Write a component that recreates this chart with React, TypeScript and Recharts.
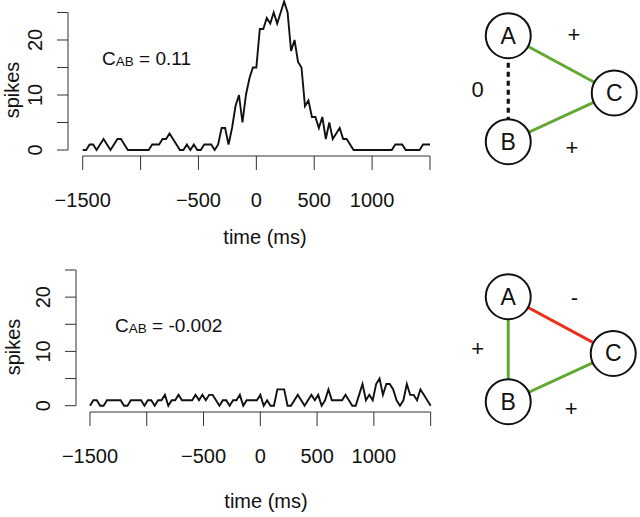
import React from "react";
import {
  LineChart,
  Line,
  XAxis,
  YAxis,
  ReferenceLine,
  Customized,
  ScatterChart,
  Scatter,
} from "recharts";

const FONT = "'Liberation Sans', Arial, Helvetica, sans-serif";
const GREEN = "#62a832";
const RED = "#e8301c";

// histogram bins (ms)
const binStart = -1500;
const binWidth = 30;

const xTicks = [-1500, -1000, -500, 0, 500, 1000, 1500];
const xTickLabels = [-1500, -500, 0, 500, 1000];
const yTicks = [0, 5, 10, 15, 20, 25];
const yTickLabels = [0, 10, 20];

// spike counts, upper panel (C_AB = 0.11)
const spikesUpper = [
  0, 0, 1, 1, 0, 1, 2, 1, 0, 1,
  2, 2, 1, 0, 0, 0, 0, 0, 0, 0,
  1, 1, 1, 2, 2, 3, 2, 1, 0, 0,
  1, 0, 1, 0, 0, 1, 1, 1, 0, 1,
  4, 4, 1, 4, 8, 10, 5, 10, 13, 15,
  15, 22, 22, 24, 23, 25, 23, 25, 27, 25,
  18, 20, 16, 15, 8, 9, 6, 6, 4, 6,
  2, 5, 2, 3, 4, 2, 2, 1, 0, 0,
  0, 0, 0, 0, 0, 0, 0, 0, 0, 0,
  1, 1, 1, 0, 0, 0, 0, 0, 1, 1,
  1,
];

// spike counts, lower panel (C_AB = -0.002)
const spikesLower = [
  0, 1, 1, 0, 0, 1, 1, 1, 1, 1,
  0, 0, 1, 1, 1, 1, 0, 1, 1, 0,
  1, 1, 2, 0, 1, 1, 2, 1, 1, 1,
  1, 2, 1, 2, 1, 2, 2, 1, 0, 1,
  1, 0, 1, 1, 2, 0, 1, 1, 1, 1,
  2, 0, 1, 0, 0, 3, 3, 3, 0, 0,
  1, 2, 1, 0, 1, 2, 1, 2, 0, 1,
  3, 1, 1, 1, 1, 2, 1, 0, 0, 2,
  4, 1, 2, 1, 4, 5, 2, 4, 4, 3,
  1, 0, 1, 4, 2, 2, 1, 3, 2, 1,
  0,
];

// network motifs
const nodes = [
  { id: "A", x: 0, y: 1 },
  { id: "B", x: 0, y: 0 },
  { id: "C", x: 1, y: 0.46 },
];
const upperEdges = [
  { from: "A", to: "C", sign: "+" },
  { from: "A", to: "B", sign: "0" },
  { from: "B", to: "C", sign: "+" },
];
const lowerEdges = [
  { from: "A", to: "C", sign: "-" },
  { from: "A", to: "B", sign: "+" },
  { from: "B", to: "C", sign: "+" },
];
const upperSignLabels = [
  { x: 0.62, y: 1.01, text: "+" },
  { x: -0.29, y: 0.49, text: "0" },
  { x: 0.6, y: -0.05, text: "+" },
];
const lowerSignLabels = [
  { x: 0.63, y: 0.99, text: "-" },
  { x: -0.29, y: 0.51, text: "+" },
  { x: 0.6, y: -0.06, text: "+" },
];

const toRows = (counts: number[]) =>
  counts.map((n, i) => ({ t: binStart + i * binWidth, spikes: n }));

const fmt = (v: number) => (v < 0 ? "\u2212" + Math.abs(v) : String(v));

type PanelProps = {
  counts: number[];
  top: number;
  height: number;
  plotLeft: number;
  plotRight: number;
  plotBottom: number;
  xDomain: [number, number];
  yDomain: [number, number];
  cab: string;
  cabPos: [number, number];
  titlePos: [number, number];
  spikesPos: [number, number];
};

const X_TICK = 14;
const Y_TICK = 11;

const SpikePanel = (p: PanelProps) => {
  const width = 460;
  const XTick = ({ x, y, payload }: any) =>
    xTickLabels.includes(payload.value) ? (
      <text
        x={x}
        y={y - X_TICK + 51}
        textAnchor="middle"
        fontSize={20}
        fontFamily={FONT}
        fill="#111"
      >
        {fmt(payload.value)}
      </text>
    ) : (
      <g />
    );
  const YTick = ({ x, y, payload }: any) => {
    if (!yTickLabels.includes(payload.value)) return <g />;
    const bx = x + Y_TICK - 26;
    return (
      <text
        x={bx}
        y={y}
        transform={`rotate(-90, ${bx}, ${y})`}
        textAnchor="middle"
        fontSize={20}
        fontFamily={FONT}
        fill="#111"
      >
        {payload.value}
      </text>
    );
  };
  return (
    <div style={{ position: "absolute", left: 0, top: p.top }}>
      <LineChart
        width={width}
        height={p.height}
        data={toRows(p.counts)}
        margin={{ top: 0, right: width - p.plotRight, bottom: 0, left: 0 }}
      >
        <XAxis
          type="number"
          dataKey="t"
          domain={p.xDomain}
          allowDataOverflow
          ticks={xTicks}
          interval={0}
          axisLine={false}
          tickLine={{ stroke: "#333", strokeWidth: 1 }}
          tickSize={X_TICK}
          tickMargin={0}
          tick={XTick}
          height={p.height - p.plotBottom}
        />
        <YAxis
          type="number"
          domain={p.yDomain}
          allowDataOverflow
          ticks={yTicks}
          interval={0}
          axisLine={false}
          tickLine={{ stroke: "#333", strokeWidth: 1 }}
          tickSize={Y_TICK}
          tickMargin={0}
          tick={YTick}
          width={p.plotLeft}
        />
        <ReferenceLine
          segment={[
            { x: -1500, y: p.yDomain[0] },
            { x: 1500, y: p.yDomain[0] },
          ]}
          stroke="#333"
          strokeWidth={1}
          ifOverflow="visible"
        />
        <ReferenceLine
          segment={[
            { x: p.xDomain[0], y: 0 },
            { x: p.xDomain[0], y: 25 },
          ]}
          stroke="#333"
          strokeWidth={1}
          ifOverflow="visible"
        />
        <Line
          type="linear"
          dataKey="spikes"
          stroke="#111"
          strokeWidth={1.9}
          dot={false}
          isAnimationActive={false}
        />
        <Customized
          component={() => (
            <g fontFamily={FONT} fill="#111">
              <text x={p.cabPos[0]} y={p.cabPos[1]} fontSize={19}>
                <tspan>C</tspan>
                <tspan fontSize={13.5} dy={1}>
                  AB
                </tspan>
                <tspan dy={-1}>{" = " + p.cab}</tspan>
              </text>
              <text
                x={p.titlePos[0]}
                y={p.titlePos[1]}
                fontSize={20}
                textAnchor="middle"
              >
                time (ms)
              </text>
              <text
                x={p.spikesPos[0]}
                y={p.spikesPos[1]}
                fontSize={20}
                textAnchor="middle"
                transform={`rotate(-90, ${p.spikesPos[0]}, ${p.spikesPos[1]})`}
              >
                spikes
              </text>
            </g>
          )}
        />
      </LineChart>
    </div>
  );
};

type MotifProps = {
  top: number;
  height: number;
  xDomain: [number, number];
  yDomain: [number, number];
  edges: { from: string; to: string; sign: string }[];
  signs: { x: number; y: number; text: string }[];
};

const edgeStyle = (sign: string) =>
  sign === "+"
    ? { stroke: GREEN, strokeWidth: 3 }
    : sign === "-"
    ? { stroke: RED, strokeWidth: 3 }
    : { stroke: "#111", strokeWidth: 3.2, strokeDasharray: "5 4" };

const NodeShape = ({ cx, cy, payload }: any) => (
  <g>
    <circle cx={cx} cy={cy} r={22.5} fill="#fff" stroke="#111" strokeWidth={2} />
    <text
      x={cx}
      y={cy}
      textAnchor="middle"
      dominantBaseline="central"
      fontSize={23}
      fontFamily={FONT}
      fill="#111"
    >
      {payload.id}
    </text>
  </g>
);

const SignShape = ({ cx, cy, payload }: any) => (
  <text
    x={cx}
    y={cy}
    textAnchor="middle"
    dominantBaseline="central"
    fontSize={22}
    fontFamily={FONT}
    fill="#111"
  >
    {payload.text}
  </text>
);

const Motif = (p: MotifProps) => {
  const byId = (id: string) => nodes.find((n) => n.id === id)!;
  return (
    <div style={{ position: "absolute", left: 440, top: p.top }}>
      <ScatterChart
        width={200}
        height={p.height}
        margin={{ top: 0, right: 0, bottom: 0, left: 0 }}
      >
        <XAxis type="number" dataKey="x" domain={p.xDomain} hide />
        <YAxis type="number" dataKey="y" domain={p.yDomain} hide />
        {p.edges.map((e) => (
          <Scatter
            key={e.from + e.to}
            data={[byId(e.from), byId(e.to)]}
            line={edgeStyle(e.sign)}
            shape={() => <g />}
            isAnimationActive={false}
          />
        ))}
        <Scatter data={nodes} shape={NodeShape} isAnimationActive={false} />
        <Scatter data={p.signs} shape={SignShape} isAnimationActive={false} />
      </ScatterChart>
    </div>
  );
};

export default function App() {
  return (
    <div
      style={{
        position: "absolute",
        left: 0,
        top: 0,
        width: 640,
        height: 517,
        background: "#fff",
        overflow: "hidden",
      }}
    >
      <SpikePanel
        counts={spikesUpper}
        top={0}
        height={260}
        plotLeft={68}
        plotRight={444}
        plotBottom={156}
        xDomain={[-1627, 1621]}
        yDomain={[-1.09, 27.27]}
        cab="0.11"
        cabPos={[102, 65]}
        titlePos={[265, 244]}
        spikesPos={[19, 90]}
      />
      <SpikePanel
        counts={spikesLower}
        top={260}
        height={257}
        plotLeft={76}
        plotRight={444.5}
        plotBottom={152}
        xDomain={[-1623, 1622]}
        yDomain={[-1.16, 26.84]}
        cab="-0.002"
        cabPos={[115, 72]}
        titlePos={[266, 248]}
        spikesPos={[20, 87]}
      />
      <Motif
        top={0}
        height={260}
        xDomain={[-0.644, 1.243]}
        yDomain={[-1.116, 1.337]}
        edges={upperEdges}
        signs={upperSignLabels}
      />
      <Motif
        top={260}
        height={257}
        xDomain={[-0.65, 1.255]}
        yDomain={[-1.098, 1.35]}
        edges={lowerEdges}
        signs={lowerSignLabels}
      />
    </div>
  );
}
